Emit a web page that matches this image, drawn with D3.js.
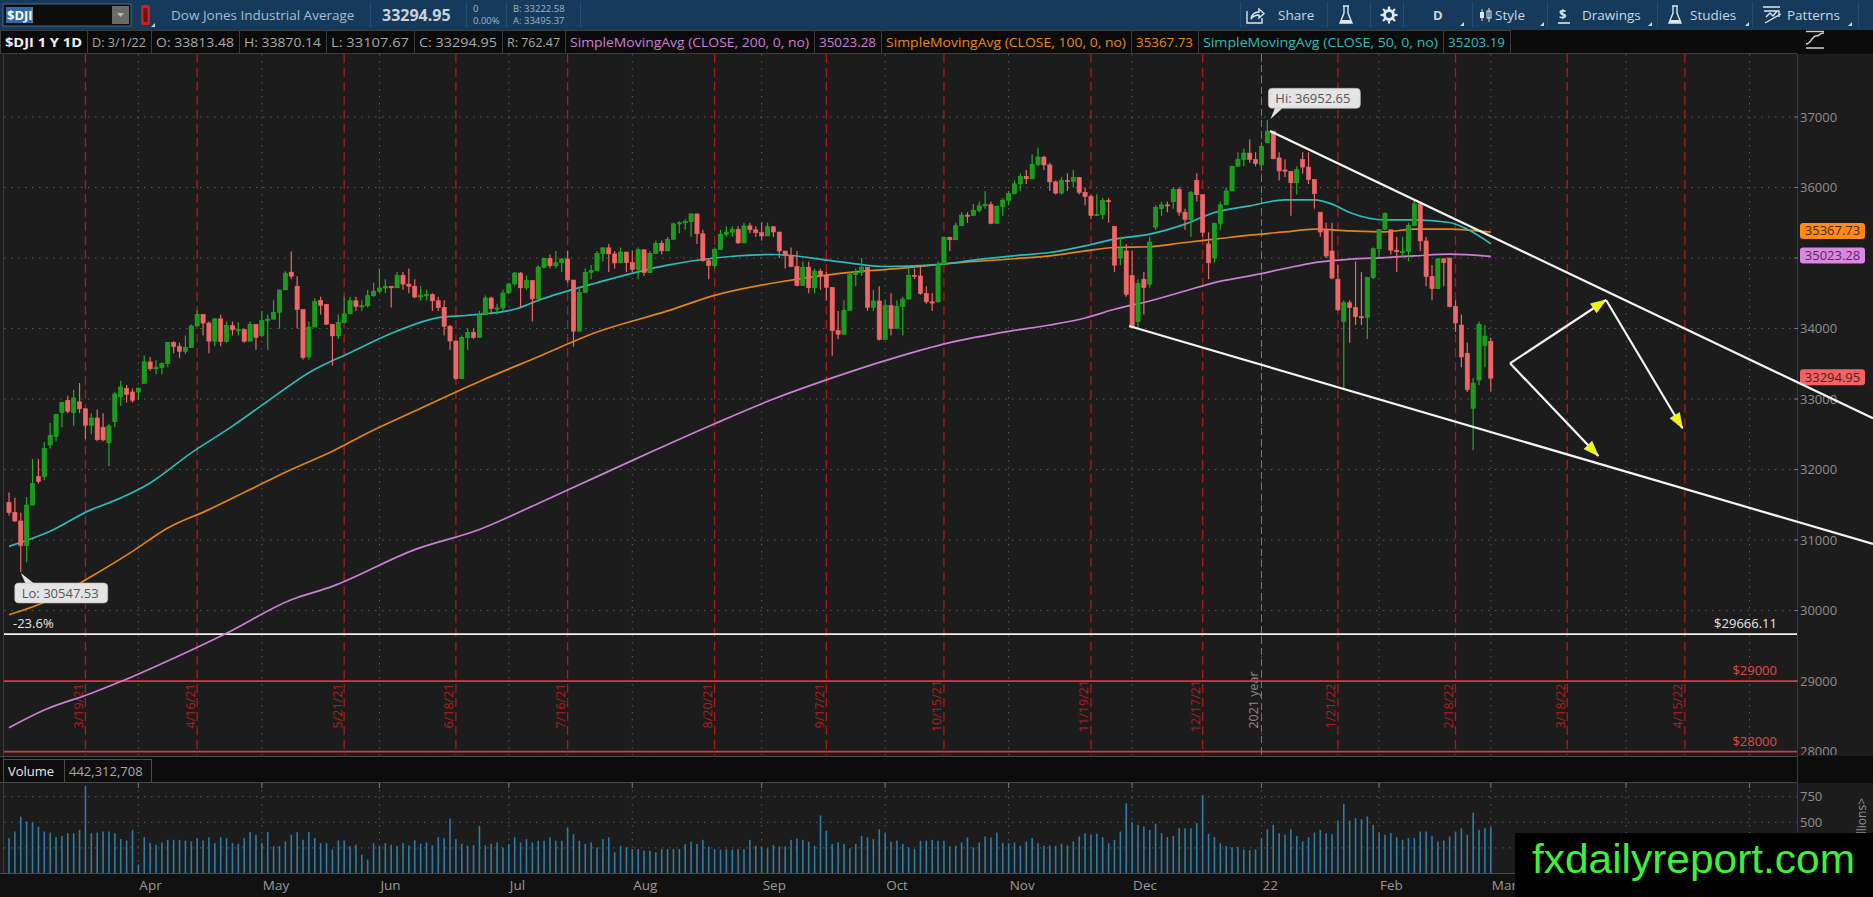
<!DOCTYPE html>
<html>
<head>
<meta charset="utf-8">
<script src="https://cdn.jsdelivr.net/npm/d3@7"></script>
<style>
  html, body { margin: 0; padding: 0; background: #1c1c1c; overflow: hidden; }
  svg { display: block; font-family: "Open Sans", sans-serif; }
</style>
</head>
<body>
<svg id="chart" width="1873" height="897"></svg>
<script>
// ---- data: $DJI daily, 3/2/21 .. 3/1/22 ----
const holidays = ["2021-04-02","2021-05-31","2021-07-05","2021-09-06","2021-11-25","2021-12-24","2022-01-17","2022-02-21"];

const openP = [
  31535,31391,31270,30924,31496,31900,31900,32350,32470,32810,32980,32810,32960,32862,32628,32731,32600,32380,32680,33030,33150,33100,
  33100,33222,33527,33430,33446,33504,33801,33746,33677,33730,34036,34200,34078,33821,34137,33815,34043,33981,33984,33820,34060,
  33900,34113,34133,34230,34548,34800,34600,34269,33600,34021,34400,34340,34061,33896,34084,34208,34394,34313,34323,34465,
  34529,34575,34600,34577,34756,34630,34600,34447,34466,34480,34394,34299,34033,33823,33290,33876,33945,33874,34196,34433,34283,34292,
  34503,34633,34786,34577,34681,34421,34870,34996,34889,34933,34987,34688,33962,34512,34798,34823,35062,35144,35059,34931,35085,
  34935,34838,35117,34793,35065,35209,35102,35265,35485,35500,35516,35626,35344,34961,34894,35120,35336,35367,35406,35214,35456,35400,
  35361,35313,35444,35369,35100,35031,34879,34608,34870,34578,34814,34751,34584,33970,33919,34258,34765,34798,34870,34300,34391,
  33844,34326,34002,34315,34417,34755,34746,34496,34378,34377,34912,35295,35259,35458,35609,35603,35677,35741,35757,35491,35731,
  35820,35913,36053,36158,36124,36328,36432,36320,36080,35921,36100,36087,36142,35931,35871,35602,35619,35814,35450,35000,35100,
  34750,34100,34700,34630,35440,35700,35755,35800,35971,35650,35544,36100,35898,35200,35000,35493,35754,35951,36302,36398,36488,36398,
  36321,36636,36800,36420,36250,36231,36068,36400,36290,36114,35650,35400,35100,34700,34100,34365,34298,34168,34161,34725,
  35132,35405,35400,35111,35089,35092,35463,35768,35242,34738,34566,34989,35000,34312,34050,33650,32870,33270,33760,33813.48
];
const highP = [
  31675,31600,31387,31611,32150,32150,32390,32661,32793,32961,33048,33127,33228,32862,32800,32850,32800,32650,33100,33260,33200,33150,
  33167,33617,33600,33550,33520,33810,33820,33800,33900,34060,34257,34200,34100,34150,34200,34100,34100,34090,34000,34100,34060,
  34250,34200,34400,34550,34811,35091,34742,34269,34100,34434,34450,34350,34061,34200,34450,34450,34450,34400,34550,34650,
  34850,34700,34600,34800,34800,34850,34700,34600,34550,34500,34450,34400,34050,33823,33900,34000,34000,34250,34470,34450,34350,34550,
  34650,34800,34800,34750,34681,34900,35000,35050,35100,35000,35100,34688,34600,34850,34900,35100,35150,35200,35100,35150,35085,
  35100,35150,35117,35100,35250,35250,35300,35500,35520,35550,35631,35626,35400,35000,35150,35400,35450,35450,35450,35500,35500,35450,
  35500,35500,35450,35369,35100,35150,35100,34950,34950,34850,34850,34800,34584,34250,34400,34800,34850,35000,34870,34550,34600,
  34400,34500,34400,34450,34850,34850,34900,34600,34500,34950,35300,35300,35500,35650,35650,35765,35800,35950,35800,35750,35850,
  35950,36100,36200,36250,36471,36565,36450,36350,36100,36150,36200,36250,36150,36000,35900,35900,35850,35850,35450,35300,35200,
  35100,34700,34800,35300,35750,35800,35800,36000,36000,35700,35950,36200,35898,35365,35500,35800,36000,36310,36500,36550,36680,36500,
  36600,36952.65,36800,36500,36400,36231,36300,36500,36500,36114,35650,35500,35500,34900,34400,34400,34950,34800,34730,35150,
  35410,35650,35400,35300,35300,35500,35824,35768,35300,34900,35000,35000,35000,34400,34200,33800,33300,34100,34050,33870.14
];
const lowP = [
  31350,31260,30547.53,30687,31496,31800,31850,32297,32400,32600,32800,32620,32800,32430,32500,32400,32400,32050,32600,32900,32950,32950,
  32985,33222,33400,33350,33350,33450,33650,33580,33640,33730,34036,33900,33650,33750,33750,33800,33900,33900,33800,33850,33700,
  33875,33700,34130,34000,34548,34700,34000,33560,33560,34021,34200,34050,33474,33850,34084,34208,34250,34250,34300,34450,
  34500,34500,34300,34577,34550,34500,34430,34400,34400,34250,34250,33900,33700,33271,33290,33700,33850,33874,34196,34200,34200,34250,
  34500,34600,34300,34550,34100,34421,34850,34850,34850,34800,34650,33741,33962,34512,34700,34823,34950,34800,34850,34931,34800,
  34800,34700,34750,34793,35065,35050,35102,35265,35350,35400,35300,35200,34950,34700,34850,35120,35300,35300,35200,35214,35350,35300,
  35250,35313,35300,35000,34850,34870,34600,34608,34500,34500,34550,34400,33613,33850,33919,34258,34600,34750,34250,34250,33830,
  33844,33900,34002,33900,34417,34700,34480,34350,34250,34377,34912,35100,35259,35458,35500,35600,35650,35700,35480,35491,35600,
  35750,35900,35950,36050,36124,36300,36250,35950,35900,35900,35950,36000,35900,35750,35550,35600,35550,35500,34800,34899,34450,
  34006,34000,34200,34580,35400,35600,35650,35700,35600,35400,35300,35800,35300,34700,34932,35400,35754,35951,36300,36300,36350,36300,
  36250,36636,36400,36100,36150,35600,35900,36200,36050,35700,35300,35000,34700,34250,33150,33800,34050,34050,33850,34700,
  35000,35400,35050,34800,35000,34950,35463,35100,34600,34400,34566,34600,34300,33950,33450,33100,32272.64,33200,33450,33107.67
];
const closeP = [
  31391,31270,30924,31496,31802,31832,32297,32485,32779,32953,32826,33015,32862,32628,32731,32423,32420,32619,33072,33171,33067,32982,
  33153,33527,33430,33446,33504,33801,33746,33677,33730,34036,34200,34078,33821,34137,33815,34043,33981,33984,33820,34060,33875,
  34113,34133,34230,34548,34778,34742,34269,33587,34021,34382,34327,34061,33896,34084,34208,34394,34313,34323,34465,34529,
  34575,34600,34577,34756,34630,34600,34447,34466,34480,34394,34299,34033,33823,33290,33876,33945,33874,34196,34433,34283,34292,34503,
  34633,34786,34577,34681,34421,34870,34996,34889,34933,34987,34688,33962,34512,34798,34823,35062,35144,35059,34931,35085,34935,
  34838,35117,34793,35065,35209,35102,35265,35485,35500,35516,35626,35344,34961,34894,35120,35336,35367,35406,35214,35456,35400,35361,
  35313,35444,35369,35100,35031,34879,34608,34870,34578,34814,34751,34584,33970,33919,34258,34765,34798,34870,34300,34391,33844,
  34326,34002,34315,34417,34755,34746,34496,34378,34377,34912,35295,35259,35458,35609,35603,35677,35741,35757,35491,35731,35820,
  35913,36053,36158,36124,36328,36432,36320,36080,35921,36100,36087,36142,35931,35871,35602,35619,35814,35804,34899,35136,34484,
  34022,34640,34580,35227,35719,35755,35754,35971,35650,35544,35928,35898,35365,34932,35493,35754,35951,36302,36398,36488,36398,36338,
  36585,36800,36408,36236,36231,36068,36252,36290,36114,35912,35369,35029,34715,34265,34365,34298,34168,34161,34725,35132,
  35405,35629,35111,35089,35092,35463,35768,35242,34738,34566,34989,34935,34312,34079,33597,33132,33224,34059,33893,33294.95
];
// volume, millions
const volumeM = [
  346,410,555,507,497,458,410,400,355,368,394,394,426,856,394,400,410,410,394,336,323,426,87,355,297,281,303,329,329,329,
  323,313,346,323,355,297,355,346,297,291,346,404,378,297,404,268,268,313,378,404,330,404,346,297,297,235,323,323,268,281,
  184,136,297,271,297,281,271,297,275,323,291,303,275,355,346,536,336,291,271,275,465,275,291,303,
  255,288,352,304,336,304,320,320,352,320,320,449,384,320,288,304,255,336,352,207,271,255,239,239,223,223,207,239,239,239,
  239,288,310,288,329,262,239,233,239,233,239,239,329,271,255,245,278,265,265,329,342,329,310,271,568,417,288,304,288,245,
  288,368,352,336,433,394,310,320,288,255,239,320,320,329,320,320,265,271,304,352,255,304,362,352,400,
  300,297,303,271,313,346,297,271,275,271,291,275,313,362,394,381,388,355,297,329,410,685,497,475,458,426,484,394,355,368,
  442,442,442,491,765,388,355,297,268,258,258,235,229,235,346,433,475,394,378,433,368,313,355,400,426,394,384,517,678,517,
  540,530,557,475,400,378,394,355,329,346,346,410,410,368,313,323,362,410,442,378,594,426,442,452
];

// moving averages read at sample days (day index, value)
const sma200Days = [0,6,14,19,28,37,48,55,69,80,90,100,110,120,130,140,150,160,170,177,183,188,194,200,205,211,217,222,228,234,239,245,252];
const sma200Vals = [28340,28590,28828,28993,29325,29680,30153,30343,30864,31150,31520,31900,32280,32650,33000,33300,33570,33800,33960,34050,34150,34273,34391,34533,34652,34746,34851,34936,34983,35007,35030,35054,35023.28];
const sma100Days = [0,7,14,21,27,34,41,48,55,61,69,80,90,100,112,120,131,141,151,161,171,177,183,188,194,200,205,211,217,222,228,234,239,245,252];
const sma100Vals = [29940,30153,30484,30840,31170,31432,31716,32000,32260,32520,32830,33250,33600,33950,34250,34470,34660,34780,34850,34930,34990,35030,35101,35149,35160,35220,35267,35324,35371,35409,35385,35371,35409,35409,35367.73];
const sma50Days = [0,7,14,17,24,31,38,44,51,58,66,73,78,86,90,100,112,120,130,141,149,157,165,172,177,183,188,194,200,205,211,217,222,225,228,234,239,245,248,252];
const sma50Vals = [30910,31124,31432,31527,31810,32237,32616,32970,33374,33658,33965,34155,34188,34273,34400,34650,34900,35000,35050,34950,34880,34900,34980,35040,35078,35172,35267,35338,35480,35646,35740,35825,35825,35764,35646,35541,35541,35504,35409,35203.19];

const opexDates = ["2021-03-19","2021-04-16","2021-05-21","2021-06-18","2021-07-16","2021-08-20","2021-09-17","2021-10-15","2021-11-19","2021-12-17","2022-01-21","2022-02-18","2022-03-18","2022-04-15"];
const opexLabels = ["3/19/21","4/16/21","5/21/21","6/18/21","7/16/21","8/20/21","9/17/21","10/15/21","11/19/21","12/17/21","1/21/22","2/18/22","3/18/22","4/15/22"];
const monthNames = ["Jan","Feb","Mar","Apr","May","Jun","Jul","Aug","Sep","Oct","Nov","Dec"];

const priceTicks = [28000,29000,30000,31000,32000,33000,34000,35000,36000,37000];
const volTicks = [250,500,750];
const levelVals = [29666.11, 29000, 28000];
const levelLabels = ["$29666.11", "$29000", "$28000"];

// drawings: [day index, price]
const upperTrend = [[214.46, 36801], [317, 32727]];
const lowerTrend = [[190.48, 34036], [317, 30944]];
const arrowFrom = [[255.27, 33507], [271.6, 34405], [255.27, 33507]];
const arrowTo   = [[271.6, 34405], [284.6, 32585], [270.3, 32192]];

// ---- layout ----
const svg = d3.select("#chart");
const W = 1873, H = 897;
const plotLeft = 4, plotRight = 1797, plotTop = 54, plotBottom = 755;
const volTop = 783, volBottom = 873;
const markTop = 833, markLeft = 1515;   // watermark box
const upCol = "#22ad22", downCol = "#f06767";
const magenta = "#cc7fd6", orange = "#e2841d", cyan = "#2fb9b9";

const fmtDay = d3.utcFormat("%Y-%m-%d");
const calendar = d3.utcDay.range(new Date(Date.UTC(2021, 2, 2)), new Date(Date.UTC(2022, 4, 21)))
  .filter(d => d.getUTCDay() > 0 && d.getUTCDay() < 6)
  .map(fmtDay)
  .filter(s => !holidays.includes(s));
const dayIndex = new Map(calendar.map((s, i) => [s, i]));

const x = d3.scaleLinear().domain([0, closeP.length - 1]).range([9, 1490.8]);
const y = d3.scaleLinear().domain([28000, 37000]).range([751.6, 117]);
const yv = d3.scaleLinear().domain([0, 750]).range([873.5, 796.7]);

// backgrounds
svg.append("rect").attr("width", W).attr("height", H).attr("fill", "#1c1c1c");
svg.append("rect").attr("x", 0).attr("y", 756).attr("width", W).attr("height", 27).attr("fill", "#0c0c0c");
svg.append("rect").attr("x", 0).attr("y", volBottom).attr("width", W).attr("height", H - volBottom).attr("fill", "#111");

const defs = svg.append("defs");
defs.append("clipPath").attr("id", "clipPlot").append("rect")
  .attr("x", plotLeft).attr("y", plotTop).attr("width", plotRight - plotLeft).attr("height", plotBottom - plotTop);
defs.append("clipPath").attr("id", "clipVol").append("rect")
  .attr("x", plotLeft).attr("y", volTop).attr("width", plotRight - plotLeft).attr("height", volBottom - volTop);
defs.append("clipPath").attr("id", "clipAxis").append("rect")
  .attr("x", plotRight).attr("y", plotTop).attr("width", W - plotRight).attr("height", plotBottom - plotTop);
defs.append("clipPath").attr("id", "clipVolAxis").append("rect")
  .attr("x", plotRight).attr("y", volTop).attr("width", W - plotRight).attr("height", markTop - volTop);

// month starts
const monthStarts = [];
for (let i = 1; i < calendar.length; i++) {
  const m = +calendar[i].slice(5, 7), pm = +calendar[i - 1].slice(5, 7);
  if (m !== pm && x(i) < plotRight) {
    monthStarts.push({ i, label: m === 1 ? calendar[i].slice(2, 4) : monthNames[m - 1] });
  }
}

// ---- price pane ----
const pane = svg.append("g").attr("clip-path", "url(#clipPlot)");

pane.selectAll(".hgrid").data(priceTicks).join("line")
  .attr("x1", plotLeft).attr("x2", plotRight)
  .attr("y1", d => y(d)).attr("y2", d => y(d))
  .attr("stroke", "#5c5c5c").attr("stroke-dasharray", "1.5,5.5");
pane.selectAll(".vgrid").data(monthStarts).join("line")
  .attr("x1", d => x(d.i)).attr("x2", d => x(d.i))
  .attr("y1", plotTop).attr("y2", plotBottom)
  .attr("stroke", "#5c5c5c").attr("stroke-dasharray", "1.5,5.5");

// options expiration lines
const opex = opexDates.map((d, k) => ({ i: dayIndex.get(d), label: opexLabels[k] }));
pane.selectAll(".opex").data(opex).join("line")
  .attr("x1", d => x(d.i)).attr("x2", d => x(d.i))
  .attr("y1", plotTop).attr("y2", plotBottom)
  .attr("stroke", "#a81c1c").attr("stroke-width", 1.3).attr("stroke-dasharray", "9,5");
pane.selectAll(".opexLbl").data(opex).join("text")
  .attr("transform", d => `translate(${x(d.i) - 2.5},706) rotate(-90)`)
  .attr("text-anchor", "middle").attr("font-size", 12.5).attr("fill", "#b01e1e")
  .text(d => d.label);

// year separator
const yearI = dayIndex.get("2022-01-03");
pane.append("line")
  .attr("x1", x(yearI)).attr("x2", x(yearI)).attr("y1", plotTop).attr("y2", plotBottom)
  .attr("stroke", "#7a7a7a").attr("stroke-dasharray", "7,4");
pane.append("text")
  .attr("transform", `translate(${x(yearI) - 3},700) rotate(-90)`)
  .attr("text-anchor", "middle").attr("font-size", 12.5).attr("fill", "#8a8a8a")
  .text("2021 year");

// price levels
const levels = levelVals.map((v, k) => ({ v, label: levelLabels[k], col: k === 0 ? "#f0f0f0" : "#d23c3c" }));
pane.selectAll(".lvl").data(levels).join("line")
  .attr("x1", plotLeft).attr("x2", plotRight)
  .attr("y1", d => y(d.v)).attr("y2", d => y(d.v))
  .attr("stroke", d => d.col).attr("stroke-width", 1.6);
pane.selectAll(".lvlLbl").data(levels).join("text")
  .attr("x", 1777).attr("y", d => y(d.v) - 6)
  .attr("text-anchor", "end").attr("font-size", 13)
  .attr("fill", (d, k) => k === 0 ? "#e6e6e6" : "#e04848")
  .text(d => d.label);
pane.append("text").attr("x", 13).attr("y", y(levelVals[0]) - 6)
  .attr("font-size", 13).attr("fill", "#e6e6e6").text("-23.6%");

// moving averages
const maLine = d3.line().x(d => x(d[0])).y(d => y(d[1])).curve(d3.curveMonotoneX);
[[sma200Days, sma200Vals, magenta], [sma100Days, sma100Vals, orange], [sma50Days, sma50Vals, cyan]]
  .forEach(([days, vals, col]) => {
    pane.append("path").datum(d3.zip(days, vals))
      .attr("d", maLine).attr("fill", "none").attr("stroke", col).attr("stroke-width", 1.7);
  });

// candles
const idx = d3.range(closeP.length);
const isUp = i => closeP[i] >= openP[i];
pane.selectAll(".wick").data(idx).join("line")
  .attr("x1", i => x(i)).attr("x2", i => x(i))
  .attr("y1", i => y(highP[i])).attr("y2", i => y(lowP[i]))
  .attr("stroke", i => isUp(i) ? upCol : downCol).attr("stroke-width", 1.2);
pane.selectAll(".body").data(idx).join("rect")
  .attr("x", i => x(i) - 2.1).attr("width", 4.2)
  .attr("y", i => y(Math.max(openP[i], closeP[i])))
  .attr("height", i => Math.max(1.2, Math.abs(y(openP[i]) - y(closeP[i]))))
  .attr("fill", i => isUp(i) ? "#1c9a1c" : downCol)
  .attr("stroke", i => isUp(i) ? upCol : downCol).attr("stroke-width", 0.6);

// hi / lo bubbles
const hiI = highP.indexOf(d3.max(highP)), loI = lowP.indexOf(d3.min(lowP.slice(0, 30)));
const hx = x(hiI), hy = y(highP[hiI]);
pane.append("path").attr("d", `M${hx + 3},${hy - 1} L${hx + 8},${hy - 13} L${hx + 16},${hy - 13} Z`).attr("fill", "#e4e4e4");
pane.append("rect").attr("x", hx + 1).attr("y", hy - 32).attr("width", 92).attr("height", 20).attr("rx", 4)
  .attr("fill", "#e4e4e4").attr("stroke", "#b8b8b8").attr("stroke-width", 0.6);
pane.append("text").attr("x", hx + 8).attr("y", hy - 17.5).attr("font-size", 13).attr("fill", "#555")
  .text("Hi: " + d3.format(".2f")(highP[hiI]));
const lx = x(loI), ly = y(lowP[loI]);
pane.append("path").attr("d", `M${lx},${ly + 1} L${lx + 5},${ly + 12} L${lx + 14},${ly + 12} Z`).attr("fill", "#e4e4e4");
pane.append("rect").attr("x", lx - 6).attr("y", ly + 11).attr("width", 93).attr("height", 20).attr("rx", 4)
  .attr("fill", "#e4e4e4").attr("stroke", "#b8b8b8").attr("stroke-width", 0.6);
pane.append("text").attr("x", lx + 1).attr("y", ly + 26).attr("font-size", 13).attr("fill", "#555")
  .text("Lo: " + d3.format(".2f")(lowP[loI]));

// ---- price axis ----
const axisG = svg.append("g");
axisG.append("line").attr("x1", plotRight + 0.5).attr("x2", plotRight + 0.5).attr("y1", plotTop).attr("y2", volBottom)
  .attr("stroke", "#3a3a3a");
axisG.append("line").attr("x1", plotLeft - 0.5).attr("x2", plotLeft - 0.5).attr("y1", plotTop).attr("y2", volBottom)
  .attr("stroke", "#3a3a3a");

const tags = [
  { v: sma100Vals[sma100Vals.length - 1], bg: "#ff8a16", fg: "#4a2c10" },
  { v: sma200Vals[sma200Vals.length - 1], bg: "#db86e3", fg: "#4d2f52" },
  { v: closeP[closeP.length - 1], bg: "#f26262", fg: "#4e2020" }
];
// tick labels hidden behind a value tag are not drawn
const freeTicks = priceTicks.filter(t => tags.every(g => Math.abs(y(t) - y(g.v)) > 12));
const axisLbl = axisG.append("g").attr("clip-path", "url(#clipAxis)");
axisLbl.selectAll("text").data(freeTicks).join("text")
  .attr("x", 1800).attr("y", d => y(d) + 4.5)
  .attr("font-size", 13).attr("fill", "#8e8e8e").text(d => d);
axisG.selectAll(".tick").data(priceTicks.filter(d => d > 28000)).join("line")
  .attr("x1", plotRight - 3).attr("x2", plotRight + 1).attr("y1", d => y(d)).attr("y2", d => y(d))
  .attr("stroke", "#777");

const tagG = axisG.selectAll(".tag").data(tags).join("g")
  .attr("transform", d => `translate(1800,${y(d.v) - 9})`);
tagG.append("rect").attr("width", 65).attr("height", 16).attr("rx", 3).attr("fill", d => d.bg);
tagG.append("text").attr("x", 32.5).attr("y", 12.3).attr("text-anchor", "middle")
  .attr("font-size", 13).attr("fill", d => d.fg).text(d => d3.format(".2f")(d.v));

// ---- drawings (extend over the axis) ----
const draw = svg.append("g");
[upperTrend, lowerTrend].forEach(t => {
  draw.append("line")
    .attr("x1", x(t[0][0])).attr("y1", y(t[0][1])).attr("x2", x(t[1][0])).attr("y2", y(t[1][1]))
    .attr("stroke", "#f4f4f4").attr("stroke-width", 2.2);
});
arrowFrom.forEach((f, k) => {
  const x1 = x(f[0]), y1 = y(f[1]), x2 = x(arrowTo[k][0]), y2 = y(arrowTo[k][1]);
  draw.append("line").attr("x1", x1).attr("y1", y1).attr("x2", x2).attr("y2", y2)
    .attr("stroke", "#f4f4f4").attr("stroke-width", 2.2);
  const a = Math.atan2(y2 - y1, x2 - x1), L = 15, w = 5.5;
  const bx = x2 - L * Math.cos(a), by = y2 - L * Math.sin(a);
  const pts = [[x2, y2], [bx - w * Math.sin(a), by + w * Math.cos(a)], [bx + w * Math.sin(a), by - w * Math.cos(a)]];
  draw.append("path").attr("d", "M" + pts.join("L") + "Z")
    .attr("fill", "#f2f20a").attr("stroke", "#fafad0").attr("stroke-width", 0.6);
});

// ---- volume pane ----
const vol = svg.append("g");
vol.append("line").attr("x1", 0).attr("x2", plotRight).attr("y1", 756.5).attr("y2", 756.5).attr("stroke", "#4a4a4a");
vol.append("line").attr("x1", 0).attr("x2", plotRight).attr("y1", volTop - 0.5).attr("y2", volTop - 0.5).attr("stroke", "#4a4a4a");
vol.append("line").attr("x1", 0).attr("x2", plotRight).attr("y1", volBottom + 0.5).attr("y2", volBottom + 0.5).attr("stroke", "#4a4a4a");
const volIn = vol.append("g").attr("clip-path", "url(#clipVol)");
volIn.selectAll(".vh").data(volTicks).join("line")
  .attr("x1", plotLeft).attr("x2", plotRight).attr("y1", d => yv(d)).attr("y2", d => yv(d))
  .attr("stroke", "#5c5c5c").attr("stroke-dasharray", "1.5,5.5");
volIn.selectAll(".vv").data(monthStarts).join("line")
  .attr("x1", d => x(d.i)).attr("x2", d => x(d.i)).attr("y1", volTop).attr("y2", volBottom)
  .attr("stroke", "#5c5c5c").attr("stroke-dasharray", "1.5,5.5");
volIn.selectAll(".vbar").data(volumeM).join("rect")
  .attr("x", (d, i) => x(i) - 0.8).attr("width", 1.6)
  .attr("y", d => yv(d)).attr("height", d => yv(0) - yv(d))
  .attr("fill", "#2b7ca6");
vol.selectAll(".vtick").data(monthStarts).join("line")
  .attr("x1", d => x(d.i)).attr("x2", d => x(d.i)).attr("y1", volTop).attr("y2", volTop + 5)
  .attr("stroke", "#777");
// volume axis: the lower part sits under the watermark box
const volAxis = vol.append("g").attr("clip-path", "url(#clipVolAxis)");
volAxis.selectAll(".vlbl").data(volTicks.filter(t => yv(t) < markTop - 6)).join("text")
  .attr("x", 1800).attr("y", d => yv(d) + 4.5).attr("font-size", 13).attr("fill", "#8e8e8e").text(d => d);
volAxis.append("text").attr("transform", "translate(1866,798) rotate(-90)")
  .attr("text-anchor", "end").attr("font-size", 12).attr("fill", "#8e8e8e").text("<Millions>");

// volume header cells
const vhead = [{ x0: 3, x1: 64, t: "Volume", c: "#e8e8e8" }, { x0: 64, x1: 151, t: "442,312,708", c: "#a8a8a8" }];
vhead.forEach(h => {
  vol.append("rect").attr("x", h.x0 + 0.5).attr("y", 759.5).attr("width", h.x1 - h.x0).attr("height", 23)
    .attr("fill", "#0e0e0e").attr("stroke", "#4a4a4a");
  vol.append("text").attr("x", h.x0 + 5).attr("y", 776).attr("font-size", 13).attr("fill", h.c).text(h.t);
});

// x-axis month labels (the ones under the watermark box are not visible)
svg.selectAll(".mlbl").data(monthStarts.filter(d => x(d.i) < markLeft - 10)).join("text")
  .attr("x", d => x(d.i) + 1).attr("y", 890).attr("font-size", 13.5).attr("fill", "#9a9a9a")
  .text(d => d.label);

// ---- header: info row ----
svg.append("rect").attr("x", 0).attr("y", 30).attr("width", W).attr("height", 24).attr("fill", "#0b0b0b");
const cells = [
  { x0: 0, x1: 87, t: "$DJI 1 Y 1D", c: "#f0f0f0", b: true },
  { x0: 87, x1: 151, t: "D: 3/1/22", c: "#a8a8a8" },
  { x0: 151, x1: 239, t: "O: 33813.48", c: "#a8a8a8" },
  { x0: 239, x1: 326, t: "H: 33870.14", c: "#a8a8a8" },
  { x0: 326, x1: 414, t: "L: 33107.67", c: "#a8a8a8" },
  { x0: 414, x1: 502, t: "C: 33294.95", c: "#a8a8a8" },
  { x0: 502, x1: 565, t: "R: 762.47", c: "#a8a8a8" },
  { x0: 565, x1: 814, t: "SimpleMovingAvg (CLOSE, 200, 0, no)", c: magenta },
  { x0: 814, x1: 881, t: "35023.28", c: magenta },
  { x0: 881, x1: 1131, t: "SimpleMovingAvg (CLOSE, 100, 0, no)", c: "#e8891c" },
  { x0: 1131, x1: 1198, t: "35367.73", c: "#e8891c" },
  { x0: 1198, x1: 1443, t: "SimpleMovingAvg (CLOSE, 50, 0, no)", c: "#2dbdbd" },
  { x0: 1443, x1: 1510, t: "35203.19", c: "#2dbdbd" }
];
const cellG = svg.selectAll(".cell").data(cells).join("g");
cellG.append("rect").attr("x", d => d.x0 + 0.5).attr("y", 30.5).attr("width", d => d.x1 - d.x0).attr("height", 23)
  .attr("fill", "#0b0b0b").attr("stroke", "#3c3c3c");
cellG.append("text").attr("x", d => d.x0 + 5).attr("y", 47).attr("font-size", 13)
  .attr("font-weight", d => d.b ? 700 : 400).attr("fill", d => d.c)
  .attr("textLength", d => d.x1 - d.x0 - 10).attr("lengthAdjust", "spacingAndGlyphs")
  .text(d => d.t);
svg.append("line").attr("x1", 1510).attr("x2", plotRight).attr("y1", 53.5).attr("y2", 53.5).attr("stroke", "#3c3c3c");
// study icon in axis corner
svg.append("path").attr("d", "M1806,48 L1824,48 M1806,44 C1811,44 1812,36 1816,36 C1820,36 1819,33 1824,33")
  .attr("stroke", "#cfcfcf").attr("stroke-width", 1.6).attr("fill", "none");
svg.append("line").attr("x1", 1806).attr("x2", 1824).attr("y1", 31.5).attr("y2", 31.5).attr("stroke", "#cfcfcf").attr("stroke-width", 1.4);

// ---- header: toolbar ----
const tb = svg.append("g");
tb.append("rect").attr("width", W).attr("height", 30).attr("fill", "#163a5b");
tb.append("rect").attr("x", 3).attr("y", 4).attr("width", 128).attr("height", 22).attr("fill", "#0d0d0d").attr("stroke", "#4d6b86");
tb.append("rect").attr("x", 6).attr("y", 7).attr("width", 25).attr("height", 16).attr("fill", "#2e6aa8");
tb.append("text").attr("x", 7).attr("y", 20).attr("font-size", 13).attr("font-weight", 700).attr("fill", "#fff").text("$DJI");
tb.append("line").attr("x1", 32).attr("x2", 32).attr("y1", 7).attr("y2", 23).attr("stroke", "#ddd");
tb.append("rect").attr("x", 112).attr("y", 6).attr("width", 17).attr("height", 18).attr("fill", "#6a6a6a");
tb.append("path").attr("d", "M117,13 L124,13 L120.5,17 Z").attr("fill", "#bbb");
tb.append("rect").attr("x", 141).attr("y", 5).attr("width", 9).attr("height", 20).attr("rx", 2).attr("fill", "#c42424");
tb.append("rect").attr("x", 143.5).attr("y", 8).attr("width", 4).attr("height", 14).attr("rx", 1.5).attr("fill", "#6b1010");
tb.append("path").attr("d", "M151,27 L155,27 L155,23 Z").attr("fill", "#ccc");
tb.append("text").attr("x", 171).attr("y", 20).attr("font-size", 13.5).attr("fill", "#a9bccd").text("Dow Jones Industrial Average");
tb.append("text").attr("x", 382).attr("y", 21).attr("font-size", 16).attr("font-weight", 700).attr("fill", "#cad3dc").text("33294.95");
tb.append("text").attr("x", 473).attr("y", 12).attr("font-size", 9.5).attr("fill", "#a0b3c4").text("0");
tb.append("text").attr("x", 473).attr("y", 24).attr("font-size", 9.5).attr("fill", "#a0b3c4").text("0.00%");
tb.append("text").attr("x", 513).attr("y", 12).attr("font-size", 9.5).attr("fill", "#a0b3c4").text("B: 33222.58");
tb.append("text").attr("x", 513).attr("y", 24).attr("font-size", 9.5).attr("fill", "#a0b3c4").text("A: 33495.37");
[370, 466, 506, 580, 1240, 1327, 1370, 1403, 1472, 1547, 1657, 1752, 1858].forEach(sx => {
  tb.append("line").attr("x1", sx + 0.5).attr("x2", sx + 0.5).attr("y1", 2).attr("y2", 28).attr("stroke", "#244d73");
});
const btnText = [{ x: 1278, t: "Share" }, { x: 1495, t: "Style" }, { x: 1582, t: "Drawings" }, { x: 1690, t: "Studies" }, { x: 1787, t: "Patterns" }];
btnText.forEach(b => tb.append("text").attr("x", b.x).attr("y", 19.5).attr("font-size", 13.5).attr("fill", "#cdd6df").text(b.t));
tb.append("text").attr("x", 1433).attr("y", 19.5).attr("font-size", 13).attr("font-weight", 700).attr("fill", "#cdd6df").text("D");
[1460, 1540, 1648, 1745, 1848].forEach(tx => tb.append("path").attr("d", `M${tx},26 L${tx + 4},26 L${tx + 4},22 Z`).attr("fill", "#cdd6df"));
// icons
const ic = "#dfe6ec";
tb.append("path").attr("d", "M1247,11 L1247,23 L1262,23 L1262,18 M1251,19 C1252,13 1256,12 1259,12 L1259,9 L1264,13.5 L1259,18 L1259,15 C1256,15 1253,16 1251,19 Z")
  .attr("fill", "none").attr("stroke", ic).attr("stroke-width", 1.4);
[1341, 1670].forEach(fx => {
  tb.append("path").attr("d", `M${fx + 2},6 L${fx + 8},6 M${fx + 3},6 L${fx + 3},13 L${fx - 1},23 L${fx + 11},23 L${fx + 7},13 L${fx + 7},6`)
    .attr("fill", "none").attr("stroke", ic).attr("stroke-width", 1.4);
  tb.append("path").attr("d", `M${fx + 0.5},20 L${fx + 9.5},20 L${fx + 10.5},23 L${fx - 0.5},23 Z`).attr("fill", ic);
});
tb.append("circle").attr("cx", 1389).attr("cy", 15).attr("r", 4.5).attr("fill", "none").attr("stroke", ic).attr("stroke-width", 3);
d3.range(8).forEach(k => {
  const a = k * Math.PI / 4;
  tb.append("line").attr("x1", 1389 + 5 * Math.cos(a)).attr("y1", 15 + 5 * Math.sin(a))
    .attr("x2", 1389 + 8.5 * Math.cos(a)).attr("y2", 15 + 8.5 * Math.sin(a)).attr("stroke", ic).attr("stroke-width", 2.2);
});
tb.append("line").attr("x1", 1482).attr("x2", 1482).attr("y1", 9).attr("y2", 21).attr("stroke", ic);
tb.append("rect").attr("x", 1480).attr("y", 12).attr("width", 4).attr("height", 6).attr("fill", ic);
tb.append("line").attr("x1", 1489).attr("x2", 1489).attr("y1", 8).attr("y2", 22).attr("stroke", ic);
tb.append("rect").attr("x", 1487).attr("y", 11).attr("width", 4).attr("height", 7).attr("fill", "none").attr("stroke", ic);
tb.append("text").attr("x", 1559).attr("y", 19).attr("font-size", 13).attr("font-weight", 700).attr("fill", ic).text("$");
tb.append("line").attr("x1", 1558).attr("x2", 1570).attr("y1", 23).attr("y2", 23).attr("stroke", ic).attr("stroke-width", 1.6);
tb.append("path").attr("d", "M1763,7 L1780,7 M1764,11 L1779,11 L1779,17 M1765,23 L1781,14 M1766,17 L1770,13 L1773,16 L1777,11")
  .attr("fill", "none").attr("stroke", ic).attr("stroke-width", 1.4);

// ---- watermark ----
svg.append("rect").attr("x", markLeft).attr("y", markTop).attr("width", W - markLeft).attr("height", H - markTop).attr("fill", "#000");
svg.append("text").attr("x", 1532).attr("y", 873).attr("font-family", "'Liberation Sans', Arial, sans-serif")
  .attr("font-size", 41).attr("fill", "#3ff03a")
  .attr("textLength", 323).attr("lengthAdjust", "spacingAndGlyphs")
  .text("fxdailyreport.com");
</script>
</body>
</html>
